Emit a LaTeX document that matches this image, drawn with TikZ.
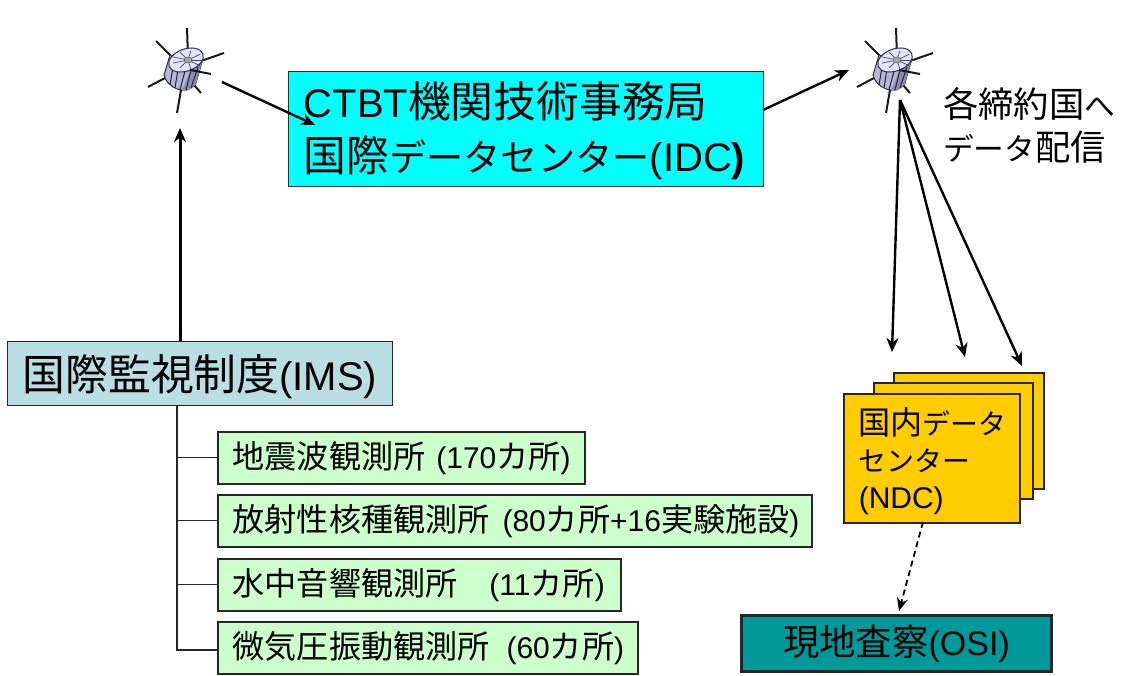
\documentclass[tikz,border=0pt]{standalone}
\usepackage{fontspec}
\setmainfont{Liberation Sans}
\newfontfamily\jp[Scale=1.07]{Noto Sans CJK JP}
\newfontfamily\jk[Scale=.93]{Noto Sans CJK JP}
\usepackage{tikz}
\usetikzlibrary{arrows.meta, positioning}
\definecolor{idccolor}{HTML}{00FFFF}
\definecolor{imscolor}{HTML}{B9DFE4}
\definecolor{obscolor}{HTML}{CCFFCC}
\definecolor{ndccolor}{HTML}{FFCC00}
\definecolor{osicolor}{HTML}{009999}
\definecolor{satlight}{HTML}{E2E2FF}
\definecolor{satmid}{HTML}{B4B4DC}
\definecolor{satdark}{HTML}{8C8CB4}
\tikzset{
    mainbox/.style={draw=black!85, anchor=north west, inner sep=0pt, line width=1.4pt},
    obsbox/.style={mainbox, fill=obscolor, minimum height=52pt, line width=1.5pt},
    ndcbox/.style={mainbox, fill=ndccolor, line width=1.5pt},
    feed/.style={line width=2.4pt, -{Stealth[length=14pt,width=12pt]}},
    tree/.style={line width=1.4pt, black!85},
    boom/.style={line width=2pt, black!90},
    sat/.pic={
        % booms behind the body
        \draw[boom] (0,-3) -- (-1,-32);
        \draw[boom] (-15,-2) -- (-32,-19);
        \draw[boom] (13,1) -- (36,-7);
        \draw[boom] (-23,18) -- (-40,27);
        \draw[boom] (-7,30) -- (-11,53);
        \draw[boom] (6,25) -- (13,33);
        % body
        \fill[satmid, draw=black!80, line width=1pt] (-18,-5) -- (-24,15)
            .. controls (-22,27) and (-1,38) .. (8,23) -- (14,2) -- cycle;
        \fill[satdark] (-6,31) .. controls (-1,32) and (5,29) .. (8,23) -- (14,2) -- (3,9) -- cycle;
        \foreach \a/\b/\c/\d in {-15/7/-18/25, -10/9/-13/28, -3/11/-8/30, 3/10/-2/30, 10/7/3/28}
            \draw[black!85, line width=1pt] (\a,\b) -- (\c,\d);
        % top of the body
        \draw[fill=satlight, draw=black!80, line width=1pt] (-2,0) ellipse[x radius=18, y radius=11, rotate=20];
        \foreach \ang in {0,40,...,320}
            \draw[black!70, line width=.7pt] (0,0) -- ++(\ang:16 and 9);
        \fill[gray!70, draw=black!70, line width=.4pt] (0,0) ellipse[x radius=4, y radius=3];
        % front boom
        \draw[boom] (2,10) -- (23,14);
    }
}
\begin{document}
\begin{tikzpicture}[x=1pt, y=-1pt]
    \useasboundingbox (0,0) rectangle (1145,675);

    \coordinate (satleft) at (188,60);
    \coordinate (satright) at (897,60);
    \pic at (satleft) {sat};
    \pic at (satright) {sat};

    % main boxes
    \node[mainbox, fill=idccolor, minimum width=475pt, minimum height=115pt, text width=475pt,
        font=\fontsize{40}{54}\selectfont] (idc) at (288,71)
        {\hspace*{15pt}\rule{0pt}{39pt}CTBT{\jp 機関技術事務局}\\\hspace*{15pt}{\jp 国際}{\jk データセンター}(IDC{\bfseries )}};
    \node[mainbox, fill=imscolor, minimum width=385pt, minimum height=64pt, text width=385pt,
        font=\fontsize{40}{40}\selectfont] (ims) at (7,341)
        {\hspace*{15pt}\rule{0pt}{42pt}{\jp 国際監視制度}(IMS)};

    % observation networks
    \node[obsbox, minimum width=367pt, text width=367pt, font=\fontsize{30}{30}\selectfont] (seismic) at (217,431)
        {\hspace*{15pt}{\jp 地震波観測所}\hspace*{11pt}(170{\jp カ所})};
    \node[obsbox, minimum width=594pt, text width=594pt, font=\fontsize{30}{30}\selectfont] (radio) at (217,494)
        {\hspace*{15pt}{\jp 放射性核種観測所}\hspace*{13pt}(80{\jp カ所}+16{\jp 実験施設})};
    \node[obsbox, minimum width=403pt, text width=403pt, font=\fontsize{30}{30}\selectfont] (hydro) at (217,558)
        {\hspace*{15pt}{\jp 水中音響観測所}\hspace*{32pt}(11{\jp カ所})};
    \node[obsbox, minimum width=420pt, text width=420pt, font=\fontsize{30}{30}\selectfont] (infra) at (217,621)
        {\hspace*{15pt}{\jp 微気圧振動観測所}\hspace*{17pt}(60{\jp カ所})};

    % tree under the ims box
    \coordinate (trunk) at (177,405);
    \coordinate (trunkend) at (177,650);
    \draw[tree] (trunk) -- (trunkend) -- (infra.west |- trunkend);
    \draw[tree] (trunk |- seismic.west) -- (seismic.west);
    \draw[tree] (trunk |- radio.west) -- (radio.west);
    \draw[tree] (trunk |- hydro.west) -- (hydro.west);

    % stack of national centres
    \node[ndcbox, minimum width=150pt, minimum height=116pt] (ndcback) at (893,372) {};
    \node[ndcbox, minimum width=159pt, minimum height=116pt] (ndcmid) at (873,382) {};
    \node[ndcbox, minimum width=176pt, minimum height=129pt, text width=176pt,
        font=\fontsize{30}{37}\selectfont] (ndc) at (843,393)
        {\hspace*{15pt}\rule{0pt}{33pt}{\jp 国内}{\jk データ}\\\hspace*{15pt}{\jk センター}\\\hspace*{15pt}(NDC)};

    \node[mainbox, fill=osicolor, line width=3pt, minimum width=310pt, minimum height=56pt,
        font=\fontsize{34}{34}\selectfont] (osi) at (740,614) {\rule{0pt}{32pt}{\jp 現地査察}(OSI)};

    \node[anchor=north west, inner sep=0pt, align=left, font=\fontsize{33}{43}\selectfont] (dist) at (943,87)
        {{\jp 各締約国}{\jk へ}\\{\jk データ}{\jp 配信}};

    % data flow
    \coordinate (imsup) at (180,341);
    \coordinate (satleftin) at (180,128);
    \coordinate (satleftout) at (222,82);
    \coordinate (idcin) at (315,125);
    \coordinate (idcout) at (763,110);
    \coordinate (satrightin) at (849,70);
    \coordinate (fan) at (900,100);
    \coordinate (fanone) at (892,352);
    \coordinate (fantwo) at (965,357);
    \coordinate (fanthree) at (1022,366);
    \coordinate (ndcout) at (923,522);
    \coordinate (osiin) at (899,611);
    \draw[feed, line width=3pt] (imsup) -- (satleftin);
    \draw[feed] (satleftout) -- (idcin);
    \draw[feed] (idcout) -- (satrightin);
    \draw[feed] (fan) -- (fanone);
    \draw[feed] (fan) -- (fantwo);
    \draw[feed] (fan) -- (fanthree);
    \draw[line width=1.8pt, dash pattern=on 6pt off 4pt, -{Stealth[length=13pt,width=11pt]}] (ndcout) -- (osiin);
\end{tikzpicture}
\end{document}
